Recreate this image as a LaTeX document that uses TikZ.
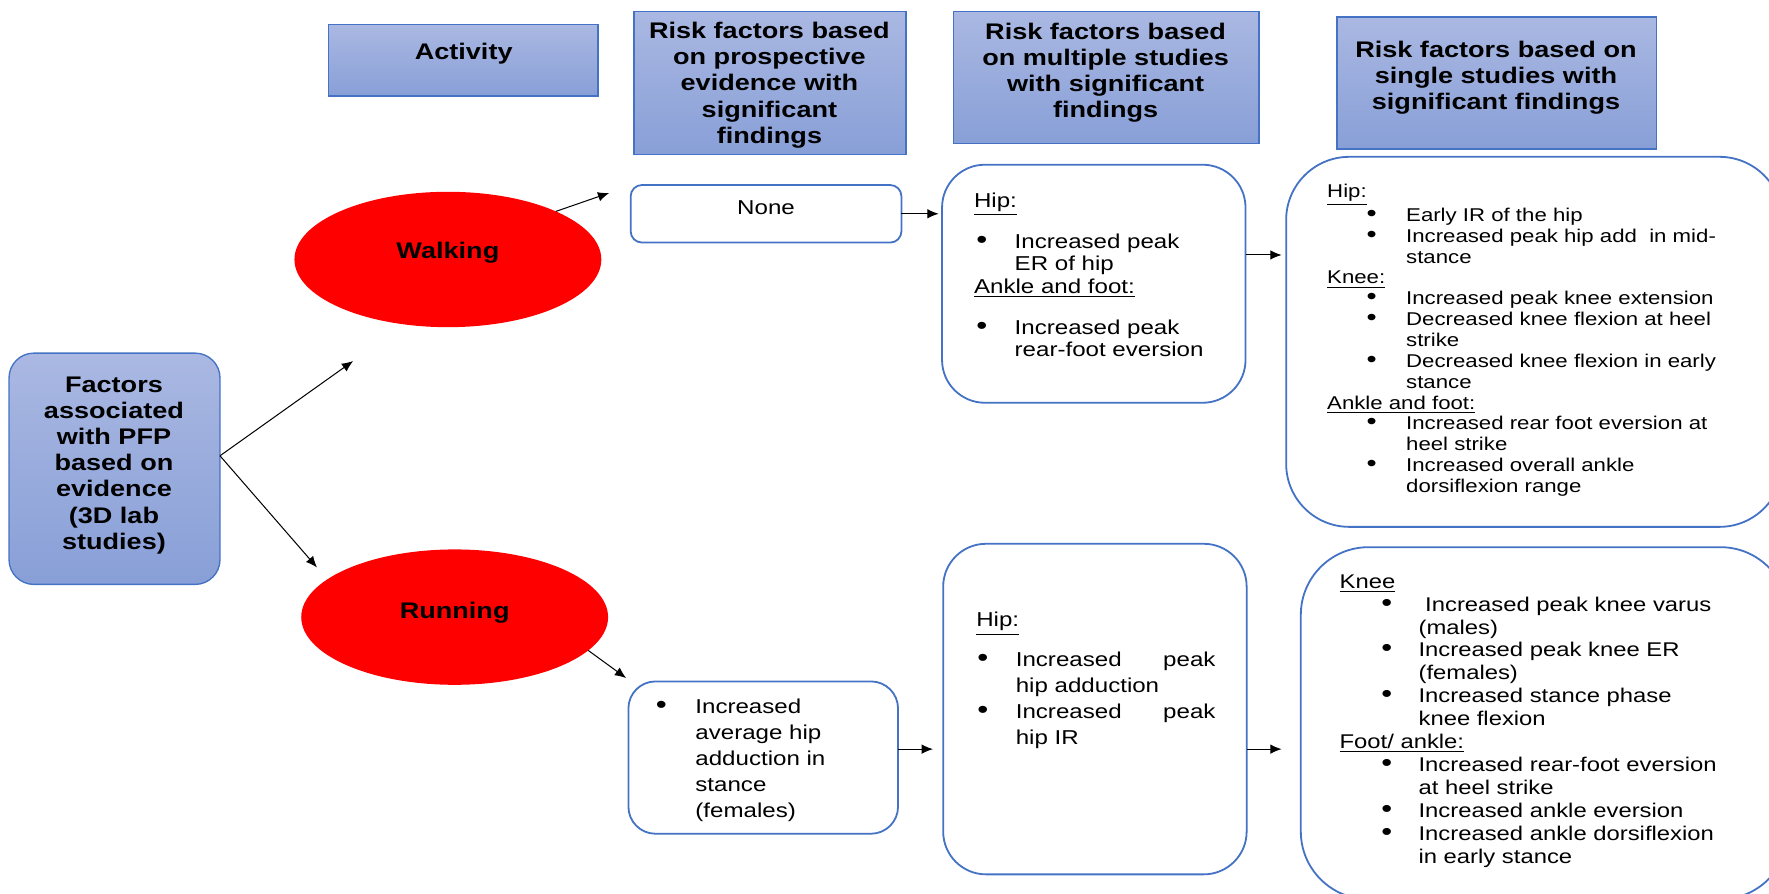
\documentclass[tikz,border=0pt]{standalone}
\usepackage{fontspec}
\usepackage{graphicx}
\setmainfont{Liberation Sans}[FakeStretch=1.2]
\usetikzlibrary{shapes.geometric,arrows.meta}
\definecolor{bord}{HTML}{4472C4}
\definecolor{gtop}{RGB}{170,184,226}
\definecolor{gbot}{RGB}{136,159,215}
\newcommand{\BL}[3]{\noindent\hbox to #2{\hskip #1\scalebox{1.3}{\textbullet}\hfil}#3\par}
\newcommand{\CL}[2]{\noindent\hskip #1\relax #2\par}
\newcommand{\HL}[1]{\noindent\underline{#1}\par}
\begin{document}
\begin{tikzpicture}[x=0.5pt,y=-0.5pt,
  hdr/.style={draw=bord, line width=0.6pt, top color=gtop, bottom color=gbot, inner sep=0pt, outer sep=0pt},
  rbox/.style={draw=bord, line width=0.8pt, fill=white, inner sep=0pt, outer sep=0pt},
  oval/.style={ellipse, fill=red, draw=none, inner sep=0pt, outer sep=0pt, minimum width=136pt, minimum height=60pt},
  btxt/.style={font=\fontsize{10}{11.6}\selectfont\bfseries, align=center, inner sep=0pt},
  rtxt/.style={font=\fontsize{8.9}{10}\selectfont, inner sep=0pt},
  ltxt/.style={align=left, inner sep=0pt, anchor=west},
  arr/.style={-{Latex[length=5pt,width=4.2pt]}, line width=0.45pt}]
\useasboundingbox (0,0) rectangle (1568,792);
\clip (0,0) rectangle (1568,792);

% headers
\node[hdr, minimum width=119.5pt, minimum height=31.5pt] (act) at (410.5,53.5) {};
\node[btxt] (actT) at (411,48) {Activity};
\node[hdr, minimum width=120.5pt, minimum height=63.5pt] (hdB) at (682.5,73.5) {};
\node[btxt] (hdBT) at (682,75.5) {Risk factors based\\on prospective\\evidence with\\significant\\findings};
\node[hdr, minimum width=135.5pt, minimum height=58.5pt] (hdC) at (980.5,68.5) {};
\node[btxt] (hdCT) at (980,64.5) {Risk factors based\\on multiple studies\\with significant\\findings};
\node[hdr, minimum width=141.5pt, minimum height=58.5pt] (hdD) at (1326.5,73.5) {};
\node[btxt] (hdDT) at (1326,69) {Risk factors based on\\single studies with\\significant findings};

% factors box
\node[hdr, rounded corners=11pt, minimum width=93.5pt, minimum height=102.5pt] (fac) at (101.5,415.5) {};
\node[btxt] (facT) at (101,412.5) {Factors\\associated\\with PFP\\based on\\evidence\\(3D lab\\studies)};

% activities
\node[oval] (walk) at (397,230) {};
\node[btxt] (walkT) at (397,224) {Walking};
\node[oval] (run) at (403,547) {};
\node[btxt] (runT) at (403,543) {Running};

% white boxes
\node[rbox, rounded corners=5pt, minimum width=120pt, minimum height=25.5pt] (none) at (679,189.5) {};
\node[rtxt] (noneT) at (679,184) {None};
\node[rbox, rounded corners=19pt, minimum width=134.5pt, minimum height=105.5pt] (multiW) at (969.5,251.5) {};
\node[rbox, rounded corners=28pt, minimum width=220pt, minimum height=164pt] (singleW) at (1360,303) {};
\node[rbox, rounded corners=12pt, minimum width=119.5pt, minimum height=67.5pt] (runP) at (676.5,671.5) {};
\node[rbox, rounded corners=19pt, minimum width=134.5pt, minimum height=146.5pt] (multiR) at (970.5,628.5) {};
\node[rbox, rounded corners=30pt, minimum width=216pt, minimum height=156pt] (singleR) at (1369,641) {};

% texts in boxes
\node[ltxt, font=\fontsize{8.9}{10}\selectfont, text width=130pt] (multiWT) at (863,243.5) {%
\HL{Hip:}\vspace{7pt}
\BL{1pt}{18pt}{Increased peak}
\CL{18pt}{ER of hip}
\HL{Ankle and foot:}\vspace{8pt}
\BL{1pt}{18pt}{Increased peak}
\CL{18pt}{rear-foot eversion}};

\node[ltxt, font=\fontsize{8.2}{9.25}\selectfont, text width=220pt] (singleWT) at (1176,301.5) {%
\HL{Hip:}
\BL{17.5pt}{35pt}{Early IR of the hip}
\BL{17.5pt}{35pt}{Increased peak hip add\ \ in mid-}
\CL{35pt}{stance}
\HL{Knee:}
\BL{17.5pt}{35pt}{Increased peak knee extension}
\BL{17.5pt}{35pt}{Decreased knee flexion at heel}
\CL{35pt}{strike}
\BL{17.5pt}{35pt}{Decreased knee flexion in early}
\CL{35pt}{stance}
\HL{Ankle and foot:}
\BL{17.5pt}{35pt}{Increased rear foot eversion at}
\CL{35pt}{heel strike}
\BL{17.5pt}{35pt}{Increased overall ankle}
\CL{35pt}{dorsiflexion range}};

\node[ltxt, font=\fontsize{8.9}{11.5}\selectfont, text width=110pt] (runPT) at (581,674) {%
\BL{0pt}{17.5pt}{Increased}
\CL{17.5pt}{average hip}
\CL{17.5pt}{adduction in}
\CL{17.5pt}{stance}
\CL{17.5pt}{(females)}};

\node[ltxt, font=\fontsize{8.9}{11.5}\selectfont, text width=120pt] (multiRT) at (865,603) {%
\HL{Hip:}\vspace{6pt}
\BL{0.5pt}{17.5pt}{\hbox to 88.5pt{Increased\hfill peak}}
\CL{17.5pt}{hip adduction}
\BL{0.5pt}{17.5pt}{\hbox to 88.5pt{Increased\hfill peak}}
\CL{17.5pt}{hip IR}};

\node[ltxt, font=\fontsize{8.8}{10.15}\selectfont, text width=210pt] (singleRT) at (1187,639) {%
\HL{Knee}
\BL{18.5pt}{35pt}{\ Increased peak knee varus}
\CL{35pt}{(males)}
\BL{18.5pt}{35pt}{Increased peak knee ER}
\CL{35pt}{(females)}
\BL{18.5pt}{35pt}{Increased stance phase}
\CL{35pt}{knee flexion}
\HL{Foot/ ankle:}
\BL{18.5pt}{35pt}{Increased rear-foot eversion}
\CL{35pt}{at heel strike}
\BL{18.5pt}{35pt}{Increased ankle eversion}
\BL{18.5pt}{35pt}{Increased ankle dorsiflexion}
\CL{35pt}{in early stance}};

% connectors
\coordinate (wEnd) at (313,320);
\coordinate (rEnd) at (281,503);
\coordinate (wTip) at (540,171);
\coordinate (rTip) at (555,601);
\draw[arr] ([yshift=5.75pt]fac.east) -- (wEnd);
\draw[arr] ([yshift=5.75pt]fac.east) -- (rEnd);
\draw[arr] (walk.24) -- (wTip);
\draw[arr] (run.-14) -- (rTip);
\draw[arr, shorten >=1.5pt] (none.east) -- (none.east -| multiW.west);
\draw[arr, shorten >=2pt] ([yshift=12.75pt]multiW.east) -- ([yshift=12.75pt]multiW.east -| singleW.west);
\draw[arr, shorten >=4.5pt] ([yshift=3.75pt]runP.east) -- ([yshift=3.75pt]runP.east -| multiR.west);
\draw[arr, shorten >=8.5pt] ([yshift=-17.75pt]multiR.east) -- ([yshift=-17.75pt]multiR.east -| singleR.west);
\end{tikzpicture}
\end{document}
